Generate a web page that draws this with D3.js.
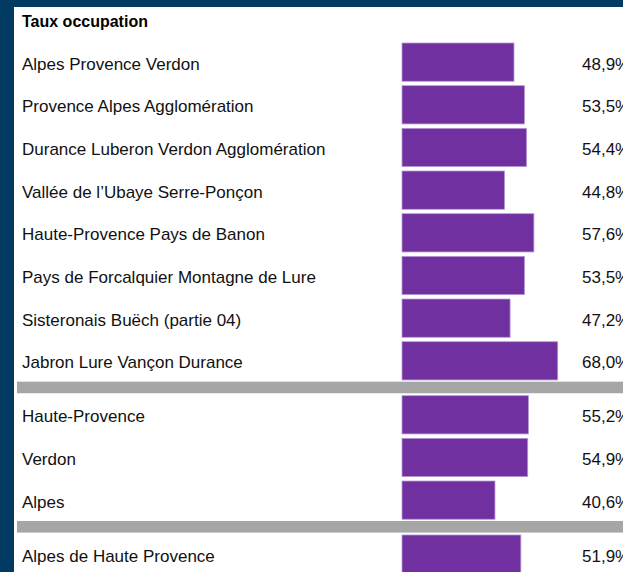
<!DOCTYPE html>
<html>
<head>
<meta charset="utf-8">
<script src="https://cdn.jsdelivr.net/npm/d3@7/dist/d3.min.js"></script>
<style>
  html, body { margin: 0; padding: 0; background: #fff; overflow: hidden; }
  svg { display: block; }
</style>
</head>
<body>
<script>
var title = 'Taux occupation'

// rows, in display order
var categories = [
  'Alpes Provence Verdon',
  'Provence Alpes Agglomération',
  'Durance Luberon Verdon Agglomération',
  'Vallée de l\u2019Ubaye Serre-Ponçon',
  'Haute-Provence Pays de Banon',
  'Pays de Forcalquier Montagne de Lure',
  'Sisteronais Buëch (partie 04)',
  'Jabron Lure Vançon Durance',
  'Haute-Provence',
  'Verdon',
  'Alpes',
  'Alpes de Haute Provence'
]
var values = [0.489, 0.535, 0.544, 0.448, 0.576, 0.535, 0.472, 0.680, 0.552, 0.549, 0.406, 0.519]
// separator after these row indexes
var breaks = [7, 10]

var W = 623, H = 572
var fmt = function (v) { return (v * 100).toFixed(1).replace('.', ',') + '%' }

var svg = d3.select('body').append('svg')
  .attr('width', W)
  .attr('height', H)

// dark frame on the left and top only
svg.append('rect')
  .attr('x', 0).attr('y', 0)
  .attr('width', 14).attr('height', H)
  .attr('fill', '#003a63')
svg.append('rect')
  .attr('x', 0).attr('y', 0)
  .attr('width', W).attr('height', 7)
  .attr('fill', '#003a63')

svg.append('text')
  .attr('x', 22).attr('y', 27)
  .attr('font-family', 'Liberation Sans, Arial, sans-serif')
  .attr('font-weight', 'bold')
  .attr('font-size', 16)
  .attr('fill', '#000')
  .text(title)

// vertical layout in "row units": one row = 1, separator = sepU
var sepU = 0.265
var rows = categories.map(function (c, i) {
  var pos = i + sepU * breaks.filter(function (b) { return b < i }).length
  return { name: c, value: values[i], pos: pos }
})
var totalU = categories.length + sepU * breaks.length
var y = d3.scaleLinear().domain([0, totalU]).range([40.7, 40.7 + totalU * 42.67])
var x = d3.scaleLinear().domain([0, 1]).range([402, 402 + 229])

// separators
svg.selectAll('.sep')
  .data(breaks)
  .enter().append('rect')
  .attr('class', 'sep')
  .attr('x', 17)
  .attr('y', function (b) { return y(b + 1 + sepU * breaks.filter(function (k) { return k < b }).length) - 0.4 })
  .attr('width', W)
  .attr('height', 11.6)
  .attr('fill', '#a6a6a6')

var g = svg.selectAll('.row')
  .data(rows)
  .enter().append('g')
  .attr('class', 'row')
  .attr('transform', function (d) { return 'translate(0,' + y(d.pos) + ')' })

var bh = y(1) - y(0)

g.append('rect')
  .attr('x', x(0))
  .attr('y', 2.3)
  .attr('width', function (d) { return x(d.value) - x(0) })
  .attr('height', bh - 4.4)
  .attr('fill', '#7030a0')
  .attr('stroke', '#b898d6')
  .attr('stroke-width', 0.8)

g.append('text')
  .attr('x', 22)
  .attr('y', bh / 2 + 7.5)
  .attr('font-family', 'Liberation Sans, Arial, sans-serif')
  .attr('font-size', 17)
  .attr('fill', '#111')
  .text(function (d) { return d.name })

g.append('text')
  .attr('x', 582)
  .attr('y', bh / 2 + 7.5)
  .attr('font-family', 'Liberation Sans, Arial, sans-serif')
  .attr('font-size', 17)
  .attr('fill', '#111')
  .text(function (d) { return fmt(d.value) })
</script>
</body>
</html>
